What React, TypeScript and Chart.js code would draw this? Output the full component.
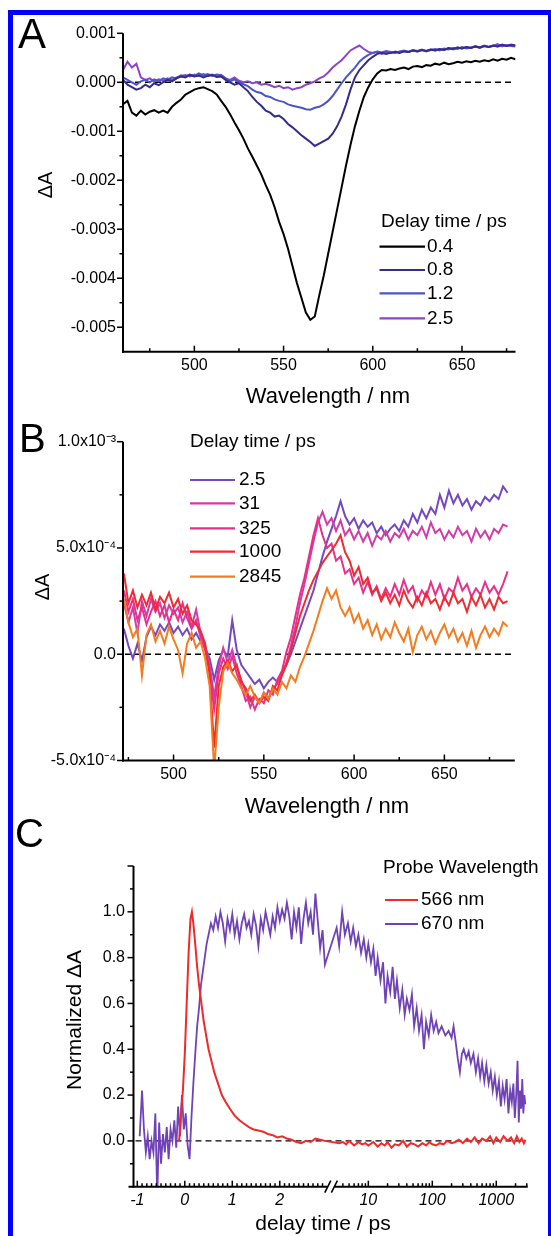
import React, { useEffect, useRef } from 'react';
import { Chart, registerables, LinearScale } from 'chart.js';

Chart.register(...registerables);

const FONT = '"Liberation Sans", Arial, Helvetica, sans-serif';

// ================= Panel A (ΔA in units of 1e-3) =================
const A_WAVELENGTH = [
  460, 462.5, 465, 467.5, 470, 472.5, 475, 477.5, 480, 482.5,
  485, 487.5, 490, 492.5, 495, 497.5, 500, 502.5, 505, 507.5,
  510, 512.5, 515, 517.5, 520, 522.5, 525, 527.5, 530, 532.5,
  535, 537.5, 540, 542.5, 545, 547.5, 550, 552.5, 555, 557.5,
  560, 562.5, 565, 567.5, 570, 572.5, 575, 577.5, 580, 582.5,
  585, 587.5, 590, 592.5, 595, 597.5, 600, 602.5, 605, 607.5,
  610, 612.5, 615, 617.5, 620, 622.5, 625, 627.5, 630, 632.5,
  635, 637.5, 640, 642.5, 645, 647.5, 650, 652.5, 655, 657.5,
  660, 662.5, 665, 667.5, 670, 672.5, 675, 677.5, 680,
];
const A_LABELS = ['0.4', '0.8', '1.2', '2.5'];
const A_COLORS = ['#000000', '#342c8c', '#4b56c6', '#8c45c8'];
const A_04 = [
  -0.45, -0.38, -0.62, -0.68, -0.58, -0.66, -0.6, -0.57, -0.62, -0.58,
  -0.62, -0.5, -0.42, -0.35, -0.25, -0.2, -0.15, -0.12, -0.1, -0.14,
  -0.18, -0.25, -0.38, -0.5, -0.65, -0.82, -0.98, -1.15, -1.35, -1.52,
  -1.7, -1.88, -2.1, -2.3, -2.55, -2.85, -3.1, -3.4, -3.75, -4.1,
  -4.4, -4.7, -4.85, -4.78, -4.35, -3.95, -3.5, -3.05, -2.6, -2.15,
  -1.7, -1.28, -0.9, -0.58, -0.3, -0.1, 0.06, 0.18, 0.25, 0.24,
  0.27, 0.25, 0.28, 0.3, 0.27, 0.32, 0.33, 0.31, 0.35, 0.34,
  0.38, 0.36, 0.4, 0.37, 0.39, 0.42, 0.4, 0.43, 0.41, 0.44,
  0.42, 0.45, 0.43, 0.47, 0.44, 0.48, 0.46, 0.5, 0.47,
];
const A_08 = [
  0.05, -0.05, -0.1, -0.15, -0.12, -0.05, -0.1, -0.02, -0.06, 0.0,
  0.05, 0.02, 0.08, 0.12, 0.1, 0.15, 0.12, 0.14, 0.1, 0.13,
  0.15, 0.11, 0.12, 0.05, 0.0, -0.05, -0.02, -0.1, -0.18, -0.3,
  -0.4, -0.48, -0.58, -0.62, -0.7, -0.68, -0.75, -0.85, -0.92, -1.0,
  -1.08, -1.15, -1.22, -1.3, -1.25, -1.2, -1.15, -1.05, -0.9, -0.7,
  -0.45, -0.15, 0.1, 0.25, 0.35, 0.45, 0.52, 0.58, 0.6, 0.58,
  0.6, 0.62, 0.6, 0.63, 0.62, 0.65, 0.63, 0.66, 0.64, 0.67,
  0.65, 0.68, 0.66, 0.7, 0.68, 0.71, 0.69, 0.72, 0.7, 0.73,
  0.71, 0.74, 0.72, 0.75, 0.73, 0.77, 0.74, 0.76, 0.75,
];
const A_12 = [
  0.1, 0.05, 0.0, -0.05, 0.02, 0.05, 0.0, 0.06, 0.02, 0.08,
  0.05, 0.1, 0.08, 0.14, 0.12, 0.16, 0.13, 0.18, 0.14, 0.17,
  0.13, 0.16, 0.14, 0.08, 0.02, 0.06, 0.0, -0.04, -0.08, -0.15,
  -0.2, -0.22, -0.28, -0.3, -0.35, -0.38, -0.4, -0.45, -0.48, -0.5,
  -0.52, -0.55, -0.56, -0.52, -0.5, -0.45, -0.38, -0.28, -0.15, -0.02,
  0.1, 0.2, 0.3, 0.42, 0.5, 0.56, 0.6, 0.63, 0.61, 0.64,
  0.62, 0.6, 0.63, 0.65, 0.62, 0.66, 0.64, 0.67, 0.63, 0.66,
  0.68, 0.65, 0.69, 0.67, 0.7, 0.68, 0.72, 0.69, 0.71, 0.73,
  0.7, 0.74, 0.72, 0.75, 0.73, 0.76, 0.74, 0.77, 0.75,
];
const A_25 = [
  0.25, 0.42, 0.3, 0.38, 0.1, 0.05, 0.08, 0.02, 0.06, 0.03,
  0.08, 0.05, 0.1, 0.13, 0.15, 0.12, 0.16, 0.13, 0.17, 0.14,
  0.16, 0.12, 0.15, 0.08, 0.05, 0.1, 0.03, 0.0, 0.02, -0.02,
  0.0, -0.05, -0.03, -0.06, -0.1, -0.07, -0.12, -0.1, -0.15, -0.12,
  -0.1, -0.05, -0.02, 0.02, 0.08, 0.12, 0.2, 0.3, 0.38, 0.45,
  0.55, 0.65, 0.7, 0.75, 0.68, 0.62, 0.6, 0.62, 0.58, 0.61,
  0.6, 0.63, 0.61, 0.64, 0.62, 0.65, 0.63, 0.66, 0.64, 0.67,
  0.65, 0.68, 0.66, 0.7, 0.67, 0.71, 0.69, 0.72, 0.7, 0.74,
  0.71, 0.75, 0.72, 0.74, 0.78, 0.73, 0.76, 0.74, 0.73,
];
const A_X_MAJOR = [500, 550, 600, 650];
const A_X_MINOR = [475, 525, 575, 625, 675];
const A_Y_MAJOR = [0.001, 0, -0.001, -0.002, -0.003, -0.004, -0.005];
const A_Y_MINOR = [0.0005, -0.0005, -0.0015, -0.0025, -0.0035, -0.0045];

// ================= Panel B (ΔA in units of 1e-4) =================
const B_WAVELENGTH = [
  472.5, 475, 477.5, 480, 482.5, 485, 487.5, 490, 492.5, 495,
  497.5, 500, 502.5, 505, 507.5, 510, 512.5, 515, 517.5, 520,
  522.5, 525, 527.5, 530, 532.5, 535, 537.5, 540, 542.5, 545,
  547.5, 550, 552.5, 555, 557.5, 560, 562.5, 565, 567.5, 570,
  572.5, 575, 577.5, 580, 582.5, 585, 587.5, 590, 592.5, 595,
  597.5, 600, 602.5, 605, 607.5, 610, 612.5, 615, 617.5, 620,
  622.5, 625, 627.5, 630, 632.5, 635, 637.5, 640, 642.5, 645,
  647.5, 650, 652.5, 655, 657.5, 660, 662.5, 665, 667.5, 670,
  672.5, 675, 677.5, 680, 682.5, 685,
];
const B_LABELS = ['2.5', '31', '325', '1000', '2845'];
const B_COLORS = ['#7448c0', '#d23ca6', '#e8308a', '#f02a30', '#f47c1e'];
const B_2_5 = [
  1.2, 0.4, -0.2, 0.5, -0.3, 0.8, 1.3, 0.9, 1.4, 1.1,
  1.5, 1.0, 1.3, 0.9, 1.2, 0.7, 1.0, 0.6, 0.3, -0.2,
  -1.2, -0.3, 0.2, -0.1, 1.6, 0.2, -0.5, -0.8, -1.1, -1.4,
  -1.2, -1.6, -1.3, -1.1, -1.3, -0.8, -0.5, 0.0, 0.6, 1.2,
  1.8, 2.4, 3.0, 3.8, 4.6, 5.3, 5.9, 6.5, 7.2, 6.5,
  6.1, 6.4, 5.9, 6.3, 6.0, 6.2, 5.7, 6.0, 5.6, 5.9,
  6.1, 5.8, 6.3, 6.0, 6.6, 6.2, 6.8, 6.4, 6.9, 6.6,
  7.5, 6.9, 7.7, 7.1, 7.5, 7.0, 7.3, 6.8, 7.2, 7.0,
  7.4, 7.2, 7.5, 7.3, 7.9, 7.6,
];
const B_31 = [
  2.4, 1.5, 2.2, 1.0, 2.5, 1.8, 2.6, 2.0, 2.4, 1.7,
  2.3, 1.9, 2.2, 1.5, 2.0, 1.3, 2.1, 1.0, 0.4, -0.5,
  -2.0, -0.6, 0.3, -0.4, 0.2, -0.6, -1.2, -1.8, -2.5, -2.0,
  -2.3, -1.8, -2.1, -1.6, -1.4, -0.9, -0.4, 0.4, 1.3, 2.4,
  3.3, 4.3, 5.3, 6.2, 6.7, 6.1, 6.4, 5.8, 6.3, 5.6,
  5.9, 5.4, 5.8, 5.3, 5.7, 5.1, 5.6, 5.4, 5.8, 5.3,
  5.7, 5.5, 5.9, 5.4, 5.8, 5.6, 6.0, 5.5, 6.2, 5.7,
  5.9, 5.4, 5.8, 5.5, 6.0, 5.6, 5.8, 5.3, 5.9, 5.5,
  5.8, 5.4, 5.9, 5.7, 6.1, 6.0,
];
const B_325 = [
  3.0, 2.0, 2.6, 1.6, 2.2, 1.4, 2.0, 2.5, 1.8, 2.3,
  1.5, 2.1, 1.6, 2.4, 1.7, 1.2, 1.6, 0.8, 0.2, -0.8,
  -2.6, -0.9, -0.2, -0.7, -0.1, -0.9, -1.5, -2.2, -2.0, -2.6,
  -2.1, -2.3, -1.7, -1.9, -1.2, -0.8, 0.1, 0.8, 1.8, 2.8,
  3.6, 4.6, 5.6, 6.4, 5.6, 5.0, 5.2, 4.4, 4.6, 3.8,
  4.0, 3.3, 3.6, 2.9, 3.4, 2.8, 3.2, 2.6, 3.1, 2.7,
  3.3, 2.8, 3.5, 2.9, 3.2, 2.5, 3.0, 2.7, 3.4, 2.8,
  3.3, 2.6, 3.1, 2.9, 3.6, 3.0, 3.3, 2.7, 3.1, 2.8,
  3.4, 2.9, 3.2, 2.8, 3.3, 3.9,
];
const B_1000 = [
  3.8, 2.4, 3.0, 2.2, 2.8, 2.3, 2.9, 2.1, 2.7, 2.4,
  2.9, 2.2, 2.6, 1.9, 2.3, 1.6, 1.4, 1.1, 0.5, -1.0,
  -4.4, -1.5, -0.6, -0.3, -0.8, -0.5, -1.3, -1.6, -2.2, -1.9,
  -2.3, -2.0, -2.2, -1.5, -1.7, -1.0, -0.5, 0.2, 1.0, 1.8,
  2.4, 3.0, 3.5, 3.9, 4.3, 4.6, 4.9, 5.2, 5.6, 4.8,
  4.4, 3.7, 4.1, 3.3, 3.6, 2.9, 3.1, 2.5, 2.9, 2.4,
  2.8, 2.3, 3.0, 2.5, 2.2, 2.7, 2.3, 2.9, 2.4, 2.6,
  2.1, 2.7, 2.3, 2.9, 2.4, 2.6, 2.0, 2.7, 2.3, 2.8,
  2.2, 2.6, 2.1, 2.7, 2.4, 2.5,
];
const B_2845 = [
  2.6, 1.5, 0.8, 1.2, -1.0, 0.9, 1.4, 0.6, 1.1, 0.5,
  1.3, 0.7, 0.2, -0.9, 0.5, 1.0, 0.3, 0.6, -0.2, -1.5,
  -5.4, -2.5, -0.8, -0.4, -0.9, -1.2, -1.6, -1.9, -1.5, -2.0,
  -2.3, -1.8, -2.1, -1.6, -1.9, -1.3, -1.6, -1.0, -1.3, -0.6,
  -0.1, 0.5, 1.1, 1.8, 2.5, 3.1, 2.6, 3.0, 2.2, 1.8,
  2.2, 1.5, 1.9, 1.2, 1.6, 0.9, 1.4, 0.7, 1.2, 0.8,
  1.5, 1.0, 0.6, 1.2, 0.1, 0.9, 1.3, 0.7, 1.1, 0.5,
  1.0, 1.4, 0.8, 1.2, 0.6, 1.0, 0.4, 1.1, 0.3, 0.9,
  1.3, 0.8, 1.2, 0.9, 1.5, 1.3,
];
const B_X_MAJOR = [500, 550, 600, 650];
const B_X_MINOR = [475, 525, 575, 625, 675];
const B_Y_MAJOR = [10, 5, 0, -5];
const B_Y_TICK_TEXT = ['1.0x10⁻³', '5.0x10⁻⁴', '0.0', '-5.0x10⁻⁴'];
const B_Y_MINOR = [7.5, 2.5, -2.5];

// ================= Panel C (normalized kinetics) =================
const C_LABELS = ['566 nm', '670 nm'];
const C_COLORS = ['#ee2a2a', '#6f43b6'];
const C_T_566 = [
  -0.12, -0.08, -0.04, 0, 0.04, 0.08, 0.12, 0.15, 0.18, 0.22,
  0.26, 0.3, 0.35, 0.4, 0.45, 0.5, 0.56, 0.62, 0.7, 0.78,
  0.86, 0.95, 1.05, 1.15, 1.25, 1.35, 1.45, 1.55, 1.65, 1.75,
  1.85, 1.95, 2.05, 2.15, 2.25, 2.35, 2.45, 2.55, 2.65, 2.75,
  2.85, 2.95, 3.5, 4, 4.5, 5, 5.5, 6, 7, 8,
  9, 10, 12, 14, 16, 18, 20, 23, 26, 30,
  35, 40, 46, 53, 60, 70, 80, 90, 100, 115,
  130, 150, 170, 200, 230, 260, 300, 350, 400, 460,
  530, 600, 700, 800, 900, 1000, 1150, 1300, 1500, 1700,
  1900, 2100, 2300, 2500, 2700, 2845,
];
const C_V_566 = [
  0.0, 0.12, 0.22, 0.38, 0.6, 0.82, 0.97, 1.0, 0.95, 0.86,
  0.76, 0.68, 0.6, 0.52, 0.46, 0.4, 0.35, 0.3, 0.25, 0.2,
  0.17, 0.14, 0.11, 0.09, 0.075, 0.06, 0.05, 0.045, 0.04, 0.03,
  0.025, 0.015, 0.02, 0.01, 0.005, -0.005, -0.01, 0.0, -0.005, 0.01,
  0.005, 0.0, -0.01, -0.005, -0.015, 0.0, -0.01, -0.02, -0.005, -0.015,
  -0.01, -0.02, -0.005, -0.025, -0.01, -0.02, -0.005, -0.03, -0.015, -0.02,
  0.0, -0.025, -0.01, -0.015, -0.025, -0.01, -0.02, -0.005, -0.015, -0.02,
  -0.01, -0.015, 0.0, -0.01, -0.005, 0.005, -0.01, 0.01, -0.005, 0.015,
  -0.01, 0.01, 0.0, 0.02, -0.01, 0.015, -0.005, 0.02, 0.0, 0.015,
  -0.01, 0.02, -0.005, 0.01, -0.01, 0.005,
];
const C_T_670 = [
  -0.95, -0.9, -0.86, -0.82, -0.78, -0.74, -0.7, -0.66, -0.62, -0.58,
  -0.54, -0.5, -0.46, -0.42, -0.38, -0.34, -0.3, -0.26, -0.22, -0.18,
  -0.14, -0.1, -0.06, -0.02, 0.02, 0.06, 0.1, 0.14, 0.18, 0.22,
  0.26, 0.3, 0.34, 0.38, 0.42, 0.46, 0.5, 0.55, 0.6, 0.65,
  0.7, 0.75, 0.8, 0.85, 0.9, 0.95, 1.0, 1.05, 1.1, 1.15,
  1.2, 1.25, 1.3, 1.35, 1.4, 1.45, 1.5, 1.55, 1.6, 1.65,
  1.7, 1.75, 1.8, 1.85, 1.9, 1.95, 2.0, 2.05, 2.1, 2.15,
  2.2, 2.25, 2.3, 2.35, 2.4, 2.45, 2.5, 2.55, 2.6, 2.65,
  2.7, 2.75, 2.8, 2.85, 2.9, 2.95, 3.2, 3.5, 3.9, 4.3,
  4.8, 5.3, 5.8, 6.4, 7, 7.7, 8.5, 9.3, 10, 11,
  12, 13, 14, 15.5, 17, 18.5, 20, 22, 24, 26,
  28, 31, 34, 37, 40, 44, 48, 52, 57, 62,
  68, 74, 80, 88, 96, 105, 115, 125, 140, 160,
  180, 200, 215, 230, 250, 270, 290, 310, 340, 370,
  400, 440, 480, 520, 560, 600, 650, 700, 760, 820,
  880, 950, 1020, 1100, 1180, 1260, 1350, 1450, 1550, 1650,
  1750, 1850, 1950, 2050, 2150, 2250, 2350, 2450, 2550, 2650,
  2750, 2845,
];
const C_V_670 = [
  0.02, 0.22, 0.05, -0.05, 0.02, -0.08, 0.0, -0.05, 0.12, -0.25,
  0.08, -0.1, 0.03, -0.05, 0.06, -0.08, 0.05, 0.0, 0.09, -0.03,
  0.15, 0.02, 0.2, 0.05, 0.12, -0.02, -0.08, 0.1, 0.25, 0.38,
  0.5, 0.58, 0.68, 0.74, 0.8, 0.86, 0.9, 0.95, 0.92, 0.98,
  0.93, 1.0, 0.95, 0.87, 0.97, 0.92, 0.99, 0.9, 0.96, 0.88,
  0.95, 0.99, 0.93, 0.96, 0.9, 0.99, 0.94, 0.85, 0.97, 0.92,
  1.0, 0.95, 0.9, 0.98, 0.93, 1.02, 0.96, 1.01, 0.97, 1.04,
  0.98, 0.88, 1.0, 0.93, 1.02, 0.86, 0.97, 1.04, 0.95, 1.0,
  0.9, 1.08, 0.96, 0.84, 0.92, 0.77, 0.93, 0.85, 1.0, 0.9,
  0.95, 0.87, 0.93, 0.85, 0.9, 0.82, 0.88, 0.8, 0.86, 0.78,
  0.84, 0.72, 0.8, 0.7, 0.78, 0.6, 0.72, 0.65, 0.76, 0.62,
  0.7, 0.58, 0.66, 0.55, 0.62, 0.57, 0.64, 0.5, 0.58, 0.48,
  0.55, 0.4, 0.52, 0.46, 0.55, 0.48, 0.52, 0.47, 0.5, 0.46,
  0.48, 0.45, 0.5, 0.44, 0.36, 0.3, 0.38, 0.4, 0.36, 0.39,
  0.34, 0.38, 0.3, 0.36, 0.28, 0.34, 0.26, 0.33, 0.25, 0.3,
  0.22, 0.28, 0.2, 0.26, 0.15, 0.24, 0.18, 0.27, 0.12, 0.22,
  0.17, 0.25, 0.1, 0.2, 0.35, 0.08, 0.22, 0.14, 0.27, 0.12,
  0.2, 0.16,
];
const C_X_MAJOR = [-1, 0, 1, 2, 10, 100, 1000];
const C_X_MINOR = [
  -0.9, -0.8, -0.7, -0.6, -0.5, -0.4, -0.3, -0.2, -0.1,
  0.1, 0.2, 0.3, 0.4, 0.5, 0.6, 0.7, 0.8, 0.9,
  1.1, 1.2, 1.3, 1.4, 1.5, 1.6, 1.7, 1.8, 1.9,
  2.1, 2.2, 2.3, 2.4, 2.5, 2.6, 2.7, 2.8, 2.9,
  4, 5, 6, 7, 8, 9, 20, 30, 40, 50, 60, 70, 80, 90,
  200, 300, 400, 500, 600, 700, 800, 900, 2000, 3000,
];
const C_Y_LABELED = [0, 0.2, 0.4, 0.6, 0.8, 1.0];
const C_Y_MAJOR = [0, 0.2, 0.4, 0.6, 0.8, 1.0, 1.2];
const C_Y_MINOR = [-0.1, 0.1, 0.3, 0.5, 0.7, 0.9, 1.1];

// ---------- broken time axis: linear up to 3 ps, logarithmic after ----------
const BREAK_T = 3;
const BREAK_GAP = 0.16;
const DECADE = 1.347;
function fwdT(t: number) {
  return t <= BREAK_T ? t : BREAK_T + BREAK_GAP + DECADE * Math.log10(t / BREAK_T);
}
function invT(u: number) {
  if (u <= BREAK_T) return u;
  if (u < BREAK_T + BREAK_GAP) return BREAK_T;
  return BREAK_T * Math.pow(10, (u - BREAK_T - BREAK_GAP) / DECADE);
}

class BrokenTimeScale extends (LinearScale as any) {
  static id = 'brokenTime';
  static defaults = {};
  determineDataLimits() {
    this.min = this.options.min;
    this.max = this.options.max;
  }
  buildTicks() {
    this.start = this.min;
    this.end = this.max;
    return C_X_MAJOR.map((v) => ({ value: v }));
  }
  getPixelForValue(value: number) {
    const a = fwdT(this.min), b = fwdT(this.max);
    return this.getPixelForDecimal((fwdT(value) - a) / (b - a));
  }
  getValueForPixel(pixel: number) {
    const a = fwdT(this.min), b = fwdT(this.max);
    return invT(a + this.getDecimalForPixel(pixel) * (b - a));
  }
}
Chart.register(BrokenTimeScale as any);

// ---------- drawing helpers ----------
function seg(ctx: CanvasRenderingContext2D, x1: number, y1: number, x2: number, y2: number) {
  ctx.beginPath();
  ctx.moveTo(x1, y1);
  ctx.lineTo(x2, y2);
  ctx.stroke();
}

function makeDecor(o: any) {
  return {
    id: 'decor',
    beforeDatasetsDraw(chart: any) {
      const { ctx, chartArea: ca } = chart;
      const y = chart.scales.y.getPixelForValue(0);
      ctx.save();
      ctx.strokeStyle = '#000';
      ctx.lineWidth = o.zeroWidth;
      ctx.setLineDash(o.zeroDash);
      seg(ctx, ca.left + 2, y, ca.right - 2, y);
      ctx.restore();
    },
    afterDatasetsDraw(chart: any) {
      const { ctx, chartArea: ca } = chart;
      const xs = chart.scales.x, ys = chart.scales.y;
      ctx.save();
      ctx.strokeStyle = '#000';
      ctx.lineWidth = 2;
      seg(ctx, ca.left, ca.top, ca.left, ca.bottom + 1);
      const x0 = ca.left - (o.xAxisLeftExtend || 1);
      if (o.xBreak != null) {
        const b1 = xs.getPixelForValue(o.xBreak);
        const b2 = xs.getPixelForValue(o.xBreak * 1.0001);
        seg(ctx, x0, ca.bottom, b1, ca.bottom);
        seg(ctx, b2, ca.bottom, ca.right, ca.bottom);
        ctx.lineWidth = 1.6;
        for (const bx of [b1 + 0.5, b2 - 0.5]) seg(ctx, bx - 3, ca.bottom + 6, bx + 3, ca.bottom - 6);
      } else {
        seg(ctx, x0, ca.bottom, ca.right, ca.bottom);
      }
      ctx.lineWidth = 1.5;
      for (const v of o.yMajor) { const p = ys.getPixelForValue(v); seg(ctx, ca.left - 6, p, ca.left, p); }
      for (const v of o.yMinor) { const p = ys.getPixelForValue(v); seg(ctx, ca.left - 3.5, p, ca.left, p); }
      for (const v of o.xMajor) { const p = xs.getPixelForValue(v); seg(ctx, p, ca.bottom, p, ca.bottom - 6); }
      for (const v of o.xMinor) { const p = xs.getPixelForValue(v); seg(ctx, p, ca.bottom, p, ca.bottom - 3.5); }

      ctx.fillStyle = '#000';
      for (const t of o.texts) {
        ctx.save();
        ctx.font = `${t.size}px ${FONT}`;
        ctx.textAlign = t.align || 'center';
        ctx.textBaseline = t.baseline || 'middle';
        ctx.translate(t.x, t.y);
        if (t.rot) ctx.rotate(t.rot);
        ctx.fillText(t.t, 0, 0);
        ctx.restore();
      }
      const lg = o.legend;
      ctx.font = `${lg.size}px ${FONT}`;
      ctx.textAlign = 'left';
      ctx.textBaseline = 'middle';
      ctx.fillText(lg.title, lg.tx, lg.ty);
      chart.data.datasets.forEach((ds: any, i: number) => {
        const y = lg.ys[i];
        ctx.strokeStyle = ds.borderColor;
        ctx.lineWidth = 2.2;
        seg(ctx, lg.x0, y, lg.x1, y);
        ctx.fillText(ds.label, lg.lx, y);
      });
      ctx.restore();
    },
  };
}

function axis(opts: any) {
  return {
    type: opts.type || 'linear',
    min: opts.min,
    max: opts.max,
    grid: { display: false, drawTicks: false },
    border: { display: false },
    ticks: {
      font: { family: FONT, size: 16, style: opts.italic ? 'italic' : 'normal' },
      color: '#000',
      padding: opts.padding,
      maxRotation: 0,
      autoSkip: false,
      callback: opts.fmt,
    },
    afterBuildTicks: (s: any) => { s.ticks = opts.ticks.map((v: number) => ({ value: v })); },
    afterFit: (s: any) => { if (opts.width != null) s.width = opts.width; if (opts.height != null) s.height = opts.height; },
  };
}

function baseOptions(padding: any, scales: any) {
  return {
    responsive: false,
    animation: false,
    devicePixelRatio: 1,
    layout: { padding },
    plugins: { legend: { display: false }, tooltip: { enabled: false } },
    elements: { point: { radius: 0 }, line: { tension: 0 } },
    scales,
  };
}

function buildA() {
  const series = [A_04, A_08, A_12, A_25];
  const datasets = series.map((vals, i) => ({
    label: A_LABELS[i],
    data: A_WAVELENGTH.map((w, j) => ({ x: w, y: vals[j] * 1e-3 })),
    borderColor: A_COLORS[i],
    borderWidth: 2,
    pointRadius: 0,
    fill: false,
  }));
  return {
    type: 'line',
    data: { datasets },
    options: baseOptions({ left: 0, top: 33.3, right: 35.5, bottom: 0 }, {
      x: axis({ min: 460, max: 680, ticks: A_X_MAJOR, fmt: (v: number) => String(v), padding: 4.5, height: 58.3 }),
      y: axis({ min: -0.0055, max: 0.001, ticks: A_Y_MAJOR, fmt: (v: number) => v.toFixed(3), padding: 7, width: 123 }),
    }),
    plugins: [makeDecor({
      zeroWidth: 1.6, zeroDash: [6, 4],
      yMajor: A_Y_MAJOR, yMinor: A_Y_MINOR, xMajor: A_X_MAJOR, xMinor: A_X_MINOR,
      texts: [
        { t: 'A', x: 18, y: 48, size: 42, align: 'left', baseline: 'alphabetic' },
        { t: 'ΔA', x: 46, y: 185, size: 20, rot: -Math.PI / 2 },
        { t: 'Wavelength / nm', x: 328, y: 397, size: 22 },
      ],
      legend: { title: 'Delay time / ps', tx: 381, ty: 222, x0: 379.5, x1: 425, lx: 427, ys: [246.7, 270, 293.3, 318.3], size: 19 },
    })],
  };
}

function buildB() {
  const series = [B_2_5, B_31, B_325, B_1000, B_2845];
  const order = [5, 4, 3, 2, 1];
  const datasets = series.map((vals, i) => ({
    label: B_LABELS[i],
    data: B_WAVELENGTH.map((w, j) => ({ x: w, y: vals[j] })),
    borderColor: B_COLORS[i],
    borderWidth: 2,
    pointRadius: 0,
    fill: false,
    order: order[i],
  }));
  return {
    type: 'line',
    data: { datasets },
    options: baseOptions({ left: 0, top: 31.7, right: 36.2, bottom: 0 }, {
      x: axis({ min: 472, max: 689, ticks: B_X_MAJOR, fmt: (v: number) => String(v), padding: 4.3, height: 64.5 }),
      y: axis({ min: -5, max: 10, ticks: B_Y_MAJOR, fmt: (v: number) => B_Y_TICK_TEXT[B_Y_MAJOR.indexOf(v)], padding: 7, width: 123 }),
    }),
    plugins: [makeDecor({
      zeroWidth: 1.6, zeroDash: [6, 4],
      yMajor: B_Y_MAJOR, yMinor: B_Y_MINOR, xMajor: B_X_MAJOR, xMinor: B_X_MINOR,
      texts: [
        { t: 'B', x: 19, y: 42, size: 40, align: 'left', baseline: 'alphabetic' },
        { t: 'ΔA', x: 43, y: 177, size: 20, rot: -Math.PI / 2 },
        { t: 'Wavelength / nm', x: 327, y: 397, size: 22 },
      ],
      legend: { title: 'Delay time / ps', tx: 190, ty: 31.7, x0: 190, x1: 235, lx: 239, ys: [70, 93.3, 118.3, 141.7, 166.7], size: 19 },
    })],
  };
}

function buildC() {
  const datasets = [
    {
      label: C_LABELS[0],
      data: C_T_566.map((t, j) => ({ x: t, y: C_V_566[j] })),
      borderColor: C_COLORS[0],
      borderWidth: 2,
      pointRadius: 0,
      fill: false,
    },
    {
      label: C_LABELS[1],
      data: C_T_670.map((t, j) => ({ x: t, y: C_V_670[j] })),
      borderColor: C_COLORS[1],
      borderWidth: 1.8,
      pointRadius: 0,
      fill: false,
    },
  ];
  return {
    type: 'line',
    data: { datasets },
    options: baseOptions({ left: 0, top: 51, right: 23.3, bottom: 0 }, {
      x: axis({ type: 'brokenTime', min: -1.08, max: 3100, ticks: C_X_MAJOR, fmt: (v: number) => String(v), padding: 3.8, height: 49.3, italic: true }),
      y: axis({ min: -0.2, max: 1.2, ticks: C_Y_LABELED, fmt: (v: number) => v.toFixed(1), padding: 8.5, width: 133.5 }),
    }),
    plugins: [makeDecor({
      zeroWidth: 1.3, zeroDash: [6, 4],
      yMajor: C_Y_MAJOR, yMinor: C_Y_MINOR, xMajor: C_X_MAJOR, xMinor: C_X_MINOR,
      xBreak: BREAK_T, xAxisLeftExtend: 5,
      texts: [
        { t: 'C', x: 15, y: 32, size: 40, align: 'left', baseline: 'alphabetic' },
        { t: 'Normalized ΔA', x: 75, y: 205, size: 21, rot: -Math.PI / 2 },
        { t: 'delay time / ps', x: 323, y: 409, size: 21 },
      ],
      legend: { title: 'Probe Wavelength', tx: 383, ty: 53, x0: 385, x1: 418, lx: 421, ys: [85, 109], size: 19 },
    })],
  };
}

function Panel({ top, height, build }: { top: number; height: number; build: () => any }) {
  const ref = useRef<HTMLCanvasElement>(null);
  useEffect(() => {
    const chart = new Chart(ref.current as HTMLCanvasElement, build());
    return () => chart.destroy();
  }, []);
  return (
    <canvas
      ref={ref}
      width={551}
      height={height}
      style={{ position: 'absolute', left: 0, top, width: 551, height }}
    />
  );
}

export default function App() {
  return (
    <div style={{ position: 'absolute', left: 0, top: 0, width: 551, height: 1236, overflow: 'hidden', background: '#fff' }}>
      <Panel top={0} height={410} build={buildA} />
      <Panel top={410} height={415} build={buildB} />
      <Panel top={815} height={421} build={buildC} />
      <div
        style={{
          position: 'absolute', left: 8, top: 10, width: 545, height: 1300,
          border: '5px solid #0000ff', borderBottom: 'none', boxSizing: 'border-box', pointerEvents: 'none',
        }}
      />
    </div>
  );
}
